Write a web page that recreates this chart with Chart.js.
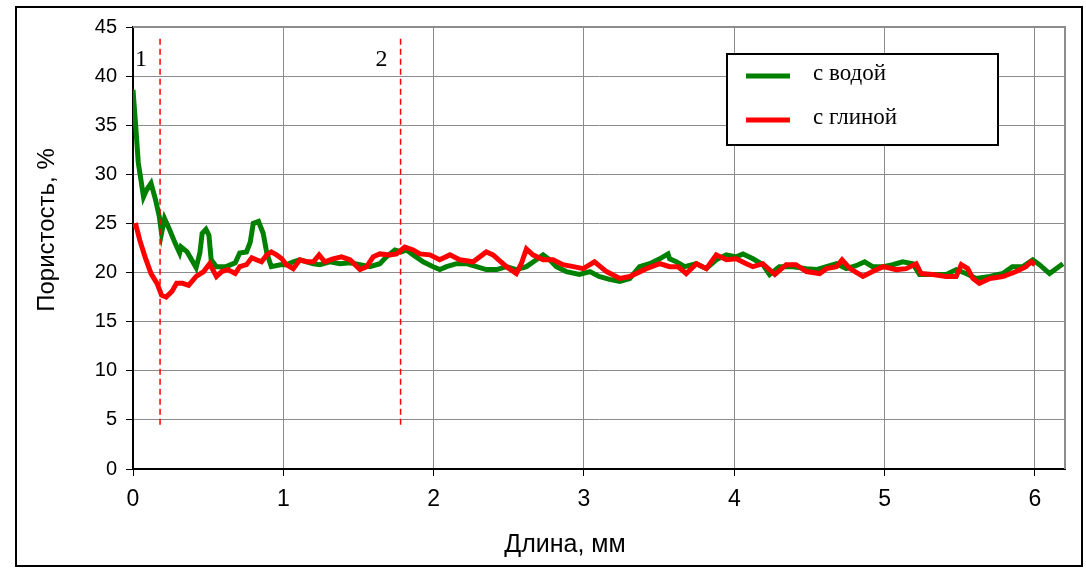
<!DOCTYPE html>
<html>
<head>
<meta charset="utf-8">
<script src="https://cdn.jsdelivr.net/npm/chart.js@4"></script>
<style>
  html, body { margin: 0; padding: 0; background: #fff; }
  #wrap { width: 1086px; height: 569px; }
</style>
</head>
<body>
<div id="wrap"><canvas id="myChart" width="1086" height="569"></canvas></div>
<script>
// с водой
const vodaX = [0, 0.02, 0.035, 0.07, 0.09, 0.12, 0.15, 0.175, 0.19, 0.21, 0.245, 0.28, 0.31, 0.32, 0.36, 0.39, 0.42, 0.445, 0.46, 0.485, 0.505, 0.52, 0.555, 0.62, 0.68, 0.71, 0.755, 0.78, 0.80, 0.835, 0.866, 0.89, 0.92, 0.98, 1.02, 1.066, 1.11, 1.2, 1.243, 1.31, 1.376, 1.443, 1.51, 1.576, 1.642, 1.686, 1.742, 1.786, 1.82, 1.864, 1.93, 1.997, 2.041, 2.086, 2.152, 2.218, 2.285, 2.35, 2.42, 2.484, 2.55, 2.617, 2.683, 2.728, 2.772, 2.816, 2.883, 2.97, 3.04, 3.1, 3.17, 3.238, 3.305, 3.37, 3.437, 3.504, 3.559, 3.57, 3.614, 3.67, 3.748, 3.814, 3.88, 3.947, 4.013, 4.058, 4.124, 4.19, 4.235, 4.3, 4.39, 4.48, 4.546, 4.613, 4.68, 4.745, 4.81, 4.867, 4.92, 4.99, 5.055, 5.12, 5.188, 5.232, 5.32, 5.41, 5.476, 5.542, 5.609, 5.7, 5.786, 5.85, 5.92, 5.986, 6.03, 6.097, 6.186];
const vodaY = [38.6, 34.5, 31.2, 27.7, 28.4, 29.1, 27.4, 25.7, 24.0, 25.5, 24.3, 23.0, 22.0, 22.6, 22.1, 21.3, 20.5, 22.0, 24.0, 24.4, 23.8, 21.3, 20.6, 20.6, 21.0, 22.0, 22.1, 23.1, 25.0, 25.2, 24.0, 22.0, 20.6, 20.8, 20.8, 21.1, 21.3, 20.9, 20.8, 21.1, 20.9, 21.0, 20.8, 20.6, 20.9, 21.6, 22.3, 22.1, 22.3, 21.8, 21.1, 20.6, 20.3, 20.6, 20.9, 20.9, 20.6, 20.3, 20.3, 20.6, 20.3, 20.6, 21.3, 21.8, 21.3, 20.6, 20.1, 19.8, 20.1, 19.6, 19.3, 19.1, 19.4, 20.6, 20.9, 21.4, 21.9, 21.4, 21.1, 20.6, 20.9, 20.4, 21.3, 21.8, 21.6, 21.9, 21.4, 20.8, 19.8, 20.6, 20.6, 20.4, 20.3, 20.6, 20.9, 20.4, 20.7, 21.1, 20.6, 20.6, 20.8, 21.1, 20.9, 19.8, 19.8, 19.8, 20.3, 19.9, 19.4, 19.6, 19.9, 20.6, 20.6, 21.3, 20.8, 19.9, 20.9];

// с глиной
const glinaX = [0, 0.02, 0.045, 0.08, 0.12, 0.16, 0.19, 0.22, 0.26, 0.29, 0.33, 0.37, 0.42, 0.47, 0.51, 0.555, 0.59, 0.63, 0.68, 0.71, 0.755, 0.79, 0.82, 0.855, 0.89, 0.92, 0.955, 0.99, 1.02, 1.066, 1.11, 1.155, 1.2, 1.238, 1.276, 1.33, 1.387, 1.443, 1.51, 1.554, 1.598, 1.642, 1.709, 1.753, 1.808, 1.864, 1.908, 1.975, 2.04, 2.108, 2.174, 2.263, 2.35, 2.395, 2.484, 2.55, 2.583, 2.617, 2.66, 2.728, 2.794, 2.86, 2.93, 2.995, 3.07, 3.15, 3.238, 3.305, 3.415, 3.504, 3.57, 3.625, 3.68, 3.748, 3.814, 3.88, 3.947, 4.013, 4.08, 4.124, 4.19, 4.27, 4.345, 4.41, 4.48, 4.568, 4.613, 4.68, 4.717, 4.77, 4.856, 4.92, 4.99, 5.077, 5.143, 5.21, 5.243, 5.32, 5.41, 5.476, 5.51, 5.553, 5.587, 5.63, 5.7, 5.786, 5.875, 5.94, 5.975, 6.0];
const glinaY = [24.7, 24.8, 23.3, 21.6, 19.9, 18.9, 17.7, 17.5, 18.1, 18.9, 18.9, 18.7, 19.6, 20.1, 20.9, 19.6, 20.1, 20.3, 19.9, 20.6, 20.8, 21.5, 21.3, 21.1, 21.8, 22.1, 21.8, 21.4, 20.8, 20.4, 21.3, 21.1, 21.1, 21.8, 21.1, 21.4, 21.6, 21.3, 20.3, 20.6, 21.6, 21.9, 21.8, 21.9, 22.6, 22.3, 21.9, 21.8, 21.3, 21.8, 21.3, 21.1, 22.1, 21.8, 20.6, 19.9, 20.9, 22.4, 21.8, 21.3, 21.3, 20.8, 20.6, 20.4, 21.1, 20.1, 19.4, 19.6, 20.4, 20.9, 20.6, 20.6, 19.9, 20.9, 20.4, 21.8, 21.3, 21.4, 20.9, 20.6, 20.9, 19.8, 20.8, 20.8, 20.1, 19.9, 20.4, 20.6, 21.3, 20.4, 19.6, 20.1, 20.6, 20.3, 20.4, 20.9, 19.9, 19.8, 19.6, 19.6, 20.8, 20.4, 19.4, 18.9, 19.4, 19.6, 20.1, 20.6, 21.1, 20.8];

// границы зон 1 и 2
const zoneX = [0.18, 1.78];
const zoneLabels = ["1", "2"];
const zoneYRange = [4.5, 44];

const seriesNames = ["с водой", "с глиной"];
const xTicks = [0, 1, 2, 3, 4, 5, 6];

const toPoints = (xs, ys) => xs.map((x, i) => ({ x: x, y: ys[i] }));

const datasets = [
  {
    label: seriesNames[0],
    data: toPoints(vodaX, vodaY),
    borderColor: "#008000",
    borderWidth: 5,
    pointRadius: 0,
    order: 2,
  },
  {
    label: seriesNames[1],
    data: toPoints(glinaX, glinaY),
    borderColor: "#ff0000",
    borderWidth: 5,
    pointRadius: 0,
    order: 1,
  },
];
zoneX.forEach((zx) => {
  datasets.push({
    label: "",
    data: [{ x: zx, y: zoneYRange[0] }, { x: zx, y: zoneYRange[1] }],
    borderColor: "#ff0000",
    borderWidth: 1.5,
    borderDash: [6, 4],
    pointRadius: 0,
    order: 0,
  });
});

const decor = {
  id: "decor",
  beforeDraw(chart) {
    const ctx = chart.ctx;
    ctx.save();
    ctx.fillStyle = "#fff";
    ctx.fillRect(0, 0, chart.width, chart.height);
    ctx.restore();
  },
  afterDraw(chart) {
    const ctx = chart.ctx;
    const a = chart.chartArea;
    const xs = chart.scales.x;
    const ys = chart.scales.y;
    ctx.save();

    // top and right frame
    ctx.strokeStyle = "#8c8c8c";
    ctx.lineWidth = 2;
    ctx.beginPath();
    ctx.moveTo(a.left, a.top);
    ctx.lineTo(a.right, a.top);
    ctx.lineTo(a.right, a.bottom);
    ctx.stroke();

    // outer border
    ctx.strokeStyle = "#000";
    ctx.lineWidth = 2;
    ctx.strokeRect(16, 7, 1066, 559);

    // zone labels
    ctx.fillStyle = "#000";
    ctx.font = "24px 'Liberation Serif', serif";
    ctx.textAlign = "center";
    ctx.textBaseline = "alphabetic";
    zoneX.forEach((zx, i) => {
      ctx.fillText(zoneLabels[i], xs.getPixelForValue(zx) - 19, ys.getPixelForValue(41));
    });

    // axis titles
    ctx.font = "25px 'Liberation Sans Narrow', 'Liberation Sans', sans-serif";
    ctx.textBaseline = "middle";
    ctx.fillText("Длина, мм", 565, 545);
    ctx.save();
    ctx.translate(47, 230);
    ctx.rotate(-Math.PI / 2);
    ctx.font = "24px 'Liberation Sans', sans-serif";
    ctx.fillText("Пористость, %", 0, 0);
    ctx.restore();

    // legend
    ctx.fillStyle = "#fff";
    ctx.fillRect(727, 54, 271, 91);
    ctx.strokeStyle = "#000";
    ctx.lineWidth = 2;
    ctx.strokeRect(727, 54, 271, 91);
    const rows = [76, 120];
    ctx.font = "23px 'Liberation Serif', serif";
    ctx.textAlign = "left";
    ctx.textBaseline = "middle";
    [0, 1].forEach((i) => {
      const ds = chart.data.datasets[i];
      ctx.strokeStyle = ds.borderColor;
      ctx.lineWidth = 5;
      ctx.beginPath();
      ctx.moveTo(746, rows[i]);
      ctx.lineTo(790, rows[i]);
      ctx.stroke();
      ctx.fillStyle = "#000";
      ctx.fillText(ds.label, 813, rows[i] - 2);
    });
    ctx.restore();
  },
};

const config = {
  type: "line",
  data: { datasets: datasets },
  options: {
    responsive: false,
    animation: false,
    events: [],
    layout: { padding: { left: 16, right: 21, top: 27, bottom: 10 } },
    plugins: { legend: { display: false }, tooltip: { enabled: false } },
    elements: { line: { tension: 0 } },
    scales: {
      x: {
        type: "linear",
        min: 0,
        max: 6.2,
        afterFit: (s) => { s.height = 90; },
        afterBuildTicks: (s) => { s.ticks = xTicks.map((v) => ({ value: v })); },
        border: { color: "#000", width: 2 },
        grid: {
          color: "#8c8c8c",
          lineWidth: 1,
          borderDash: [2, 1],
          tickColor: "#000",
          tickBorderDash: [],
          tickLength: 7,
        },
        ticks: {
          color: "#000",
          padding: 10,
          font: { family: "'Liberation Sans Narrow', 'Liberation Sans', sans-serif", size: 23 },
        },
      },
      y: {
        min: 0,
        max: 45,
        afterFit: (s) => { s.width = 117; },
        border: { color: "#000", width: 2 },
        grid: {
          color: "#8c8c8c",
          lineWidth: 1,
          borderDash: [2, 1],
          tickColor: "#000",
          tickBorderDash: [],
          tickLength: 7,
        },
        ticks: {
          stepSize: 5,
          color: "#000",
          padding: 9,
          font: { family: "'Liberation Sans', sans-serif", size: 20 },
        },
      },
    },
  },
  plugins: [decor],
};

const myChart = new Chart(document.getElementById("myChart"), config);
</script>
</body>
</html>
